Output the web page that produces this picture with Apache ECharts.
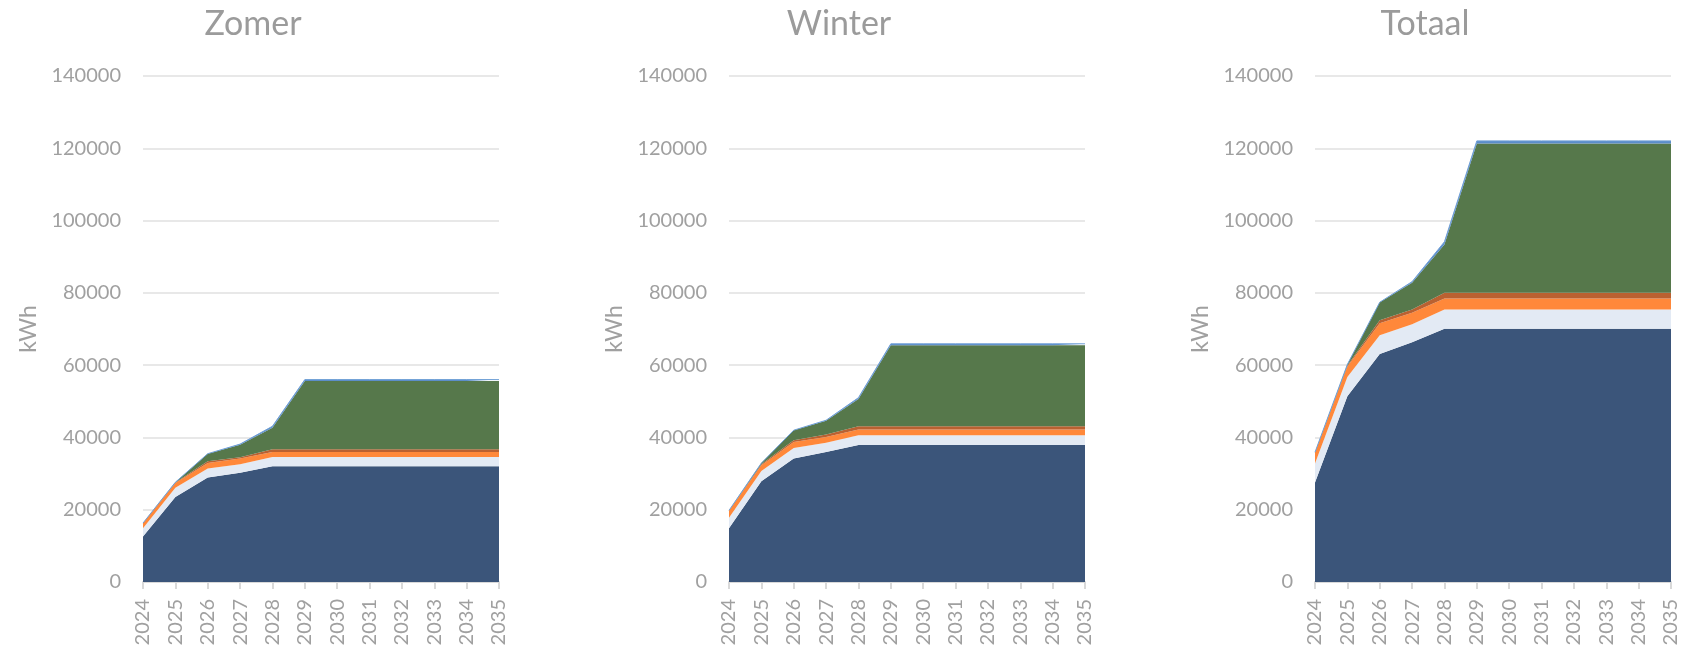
<!DOCTYPE html>
<html>
<head>
<meta charset="utf-8">
<script src="https://cdn.jsdelivr.net/npm/echarts@6/dist/echarts.min.js"></script>
<style>
  html, body { margin: 0; padding: 0; background: #fff; }
  #main { width: 1690px; height: 653px; }
</style>
</head>
<body>
<div id="main"></div>
<script>
// jaren op de x-as
const years = ['2024', '2025', '2026', '2027', '2028', '2029', '2030', '2031', '2032', '2033', '2034', '2035'];

// Zomer (kWh per laag, van onder naar boven)
const zomerBasis   = [12600, 23500, 28900, 30200, 32000, 32000, 32000, 32000, 32000, 32000, 32000, 32000];
const zomerLicht   = [2300, 2600, 2500, 2400, 2600, 2600, 2600, 2600, 2600, 2600, 2600, 2600];
const zomerOranje  = [1400, 1300, 1500, 1550, 1400, 1400, 1400, 1400, 1400, 1400, 1400, 1400];
const zomerBruin   = [0, 100, 500, 350, 700, 700, 700, 700, 700, 700, 700, 700];
const zomerGroen   = [0, 100, 2100, 3500, 6000, 18900, 18900, 18900, 18900, 18900, 18900, 18900];
const zomerBlauw   = [0, 0, 0, 150, 400, 400, 400, 400, 400, 400, 400, 400];

// Winter
const winterBasis  = [14900, 27900, 34150, 36000, 37900, 37900, 37900, 37900, 37900, 37900, 37900, 37900];
const winterLicht  = [2900, 2800, 2950, 2500, 2700, 2700, 2700, 2700, 2700, 2700, 2700, 2700];
const winterOranje = [2000, 1600, 1650, 1600, 1600, 1600, 1600, 1600, 1600, 1600, 1600, 1600];
const winterBruin  = [0, 300, 450, 700, 900, 900, 900, 900, 900, 900, 900, 900];
const winterGroen  = [0, 300, 2800, 3800, 7500, 22400, 22400, 22400, 22400, 22400, 22400, 22400];
const winterBlauw  = [0, 0, 0, 150, 400, 400, 400, 400, 400, 400, 400, 400];

// Totaal
const totaalBasis  = [27500, 51400, 63100, 66300, 70100, 70100, 70100, 70100, 70100, 70100, 70100, 70100];
const totaalLicht  = [5300, 5300, 5200, 5000, 5300, 5300, 5300, 5300, 5300, 5300, 5300, 5300];
const totaalOranje = [3100, 2900, 3300, 3200, 3050, 3050, 3050, 3050, 3050, 3050, 3050, 3050];
const totaalBruin  = [0, 300, 800, 900, 1550, 1550, 1550, 1550, 1550, 1550, 1550, 1550];
const totaalGroen  = [0, 300, 5000, 7400, 13400, 41300, 41300, 41300, 41300, 41300, 41300, 41300];
const totaalBlauw  = [0, 0, 0, 300, 750, 750, 750, 750, 750, 750, 750, 750];

const yTicks = { min: 0, max: 140000, interval: 20000 };

const kleuren = ['#3B557A', '#E3EAF4', '#FF883A', '#BA6131', '#56784B', '#5B8DC9'];
const laagNamen = ['Basis', 'Licht', 'Oranje', 'Bruin', 'Groen', 'Blauw'];

const panels = [
  { title: 'Zomer',  left: 143,  data: [zomerBasis, zomerLicht, zomerOranje, zomerBruin, zomerGroen, zomerBlauw] },
  { title: 'Winter', left: 729,  data: [winterBasis, winterLicht, winterOranje, winterBruin, winterGroen, winterBlauw] },
  { title: 'Totaal', left: 1315, data: [totaalBasis, totaalLicht, totaalOranje, totaalBruin, totaalGroen, totaalBlauw] }
];

const grijs = '#a0a0a0';
const font = 'Lato';

let option = {
  backgroundColor: '#fff',
  animation: false,
  title: [],
  grid: [],
  xAxis: [],
  yAxis: [],
  series: []
};

panels.forEach((p, i) => {
  option.title.push({
    text: p.title,
    left: p.left + 178 - 73,
    top: 2,
    textAlign: 'center',
    textStyle: { fontFamily: font, fontSize: 34, fontWeight: 'normal', color: '#9b9b9b' }
  });
  option.grid.push({ left: p.left, top: 76, width: 356, height: 506 });
  option.xAxis.push({
    type: 'category',
    gridIndex: i,
    data: years,
    boundaryGap: false,
    axisLine: { lineStyle: { color: '#d9d9d9', width: 2 } },
    axisTick: { show: true, length: 7, lineStyle: { color: '#d9d9d9', width: 2 } },
    axisLabel: { rotate: 90, margin: 17, color: grijs, fontFamily: font, fontSize: 20, interval: 0 },
    splitLine: { show: false }
  });
  option.yAxis.push({
    type: 'value',
    gridIndex: i,
    min: yTicks.min,
    max: yTicks.max,
    interval: yTicks.interval,
    name: 'kWh',
    nameLocation: 'middle',
    nameRotate: 90,
    nameGap: 103,
    nameTextStyle: { color: grijs, fontFamily: font, fontSize: 23 },
    axisLine: { show: false },
    axisTick: { show: false },
    axisLabel: { margin: 22, color: grijs, fontFamily: font, fontSize: 20, formatter: v => String(v) },
    splitLine: { lineStyle: { color: '#e8e8e8', width: 2 } }
  });
  p.data.forEach((vals, k) => {
    option.series.push({
      name: laagNamen[k],
      type: 'line',
      xAxisIndex: i,
      yAxisIndex: i,
      stack: 'stapel' + i,
      data: vals,
      symbol: 'none',
      lineStyle: { width: k === 5 ? 1 : 0, color: '#6f9fd6' },
      itemStyle: { color: kleuren[k] },
      areaStyle: { color: kleuren[k], opacity: 1 },
      z: 2 + k
    });
  });
});

const chart = echarts.init(document.getElementById('main'));
chart.setOption(option);
</script>
</body>
</html>
